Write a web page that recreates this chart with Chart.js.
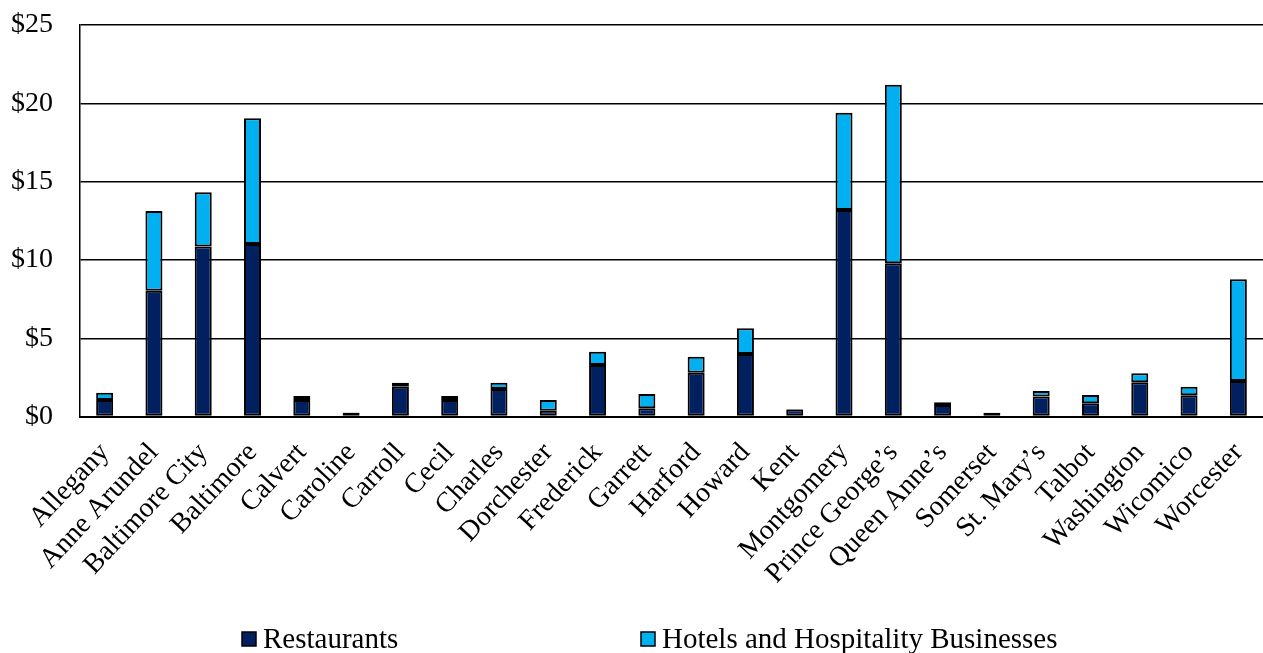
<!DOCTYPE html>
<html>
<head>
<meta charset="utf-8">
<script src="https://cdn.jsdelivr.net/npm/chart.js@4/dist/chart.umd.min.js"></script>
<style>
  html, body { margin: 0; padding: 0; background: #fff; }
  #wrap { width: 1263px; height: 653px; }
</style>
</head>
<body>
<div id="wrap"><canvas id="chart" width="1263" height="653"></canvas></div>
<script>
// Maryland counties, spending in $ (stacked: restaurants + hotels/hospitality)
const counties = [
  'Allegany', 'Anne Arundel', 'Baltimore City', 'Baltimore', 'Calvert', 'Caroline',
  'Carroll', 'Cecil', 'Charles', 'Dorchester', 'Frederick', 'Garrett', 'Harford',
  'Howard', 'Kent', 'Montgomery', 'Prince George\u2019s', 'Queen Anne\u2019s',
  'Somerset', 'St. Mary\u2019s', 'Talbot', 'Washington', 'Wicomico', 'Worcester'
];
const restaurants = [
  1.05, 8.03, 10.85, 11.02, 1.05, 0.24,
  1.90, 1.05, 1.76, 0.37, 3.29, 0.52, 2.80,
  3.99, 0.45, 13.19, 9.78, 0.73,
  0.22, 1.27, 0.84, 2.18, 1.35, 2.27
];
const hotels = [
  0.47, 5.09, 3.47, 8.02, 0.26, 0.02,
  0.26, 0.26, 0.40, 0.68, 0.85, 0.92, 1.02,
  1.64, 0.03, 6.21, 11.41, 0.18,
  0.02, 0.36, 0.53, 0.58, 0.55, 6.49
];
const yTicks = [0, 5, 10, 15, 20, 25];
const seriesNames = ['Restaurants', 'Hotels and Hospitality Businesses'];

const FONT = '"Liberation Serif", "Times New Roman", serif';

// Legend row drawn beneath the rotated county names
const bottomLegend = {
  id: 'bottomLegend',
  afterDraw(chart, args, opts) {
    const ctx = chart.ctx;
    ctx.save();
    ctx.font = opts.fontSize + 'px ' + FONT;
    ctx.textBaseline = 'middle';
    ctx.textAlign = 'left';
    chart.data.datasets.forEach((ds, i) => {
      const x = opts.itemX[i];
      const y = opts.y;
      const s = opts.box;
      ctx.fillStyle = ds.backgroundColor;
      ctx.fillRect(x, y - s / 2, s, s);
      ctx.strokeStyle = '#000';
      ctx.lineWidth = 1.5;
      ctx.strokeRect(x, y - s / 2, s, s);
      ctx.fillStyle = '#000';
      ctx.fillText(ds.label, x + s + opts.gap, y + 1);
    });
    ctx.restore();
  }
};

new Chart(document.getElementById('chart'), {
  type: 'bar',
  data: {
    labels: counties,
    datasets: [
      {
        label: seriesNames[0],
        data: restaurants,
        backgroundColor: '#002060',
        borderColor: '#000',
        borderWidth: 2,
        borderSkipped: false
      },
      {
        label: seriesNames[1],
        data: hotels,
        backgroundColor: '#00B0F0',
        borderColor: '#000',
        borderWidth: 2,
        borderSkipped: false
      }
    ]
  },
  options: {
    responsive: false,
    animation: false,
    devicePixelRatio: 1,
    layout: { padding: { top: 25, right: 0, left: 0, bottom: 0 } },
    datasets: {
      bar: { categoryPercentage: 1.0, barPercentage: 0.345 }
    },
    plugins: {
      legend: { display: false },
      tooltip: { enabled: false },
      bottomLegend: { itemX: [242, 641], y: 639, box: 14, gap: 7, fontSize: 29 }
    },
    scales: {
      x: {
        stacked: true,
        grid: { display: false, drawTicks: false },
        border: { display: true, color: '#000', width: 2 },
        ticks: {
          color: '#000',
          font: { family: FONT, size: 28 },
          minRotation: 47,
          maxRotation: 47,
          padding: 20,
          autoSkip: false
        },
        afterFit(scale) {
          scale.height = 236.5;
          scale.paddingLeft = 0;
          scale.paddingRight = 0;
        }
      },
      y: {
        stacked: true,
        min: 0,
        max: 25,
        afterBuildTicks(scale) { scale.ticks = yTicks.map(v => ({ value: v })); },
        grid: { color: '#000', lineWidth: 1.4, drawTicks: false },
        border: { display: true, color: '#000', width: 1.5 },
        ticks: {
          color: '#000',
          font: { family: FONT, size: 28 },
          padding: 27,
          callback: v => '$' + v
        },
        afterFit(scale) {
          scale.width = 80;
          scale.paddingTop = 0;
          scale.paddingBottom = 0;
        }
      }
    }
  },
  plugins: [bottomLegend]
});
</script>
</body>
</html>
